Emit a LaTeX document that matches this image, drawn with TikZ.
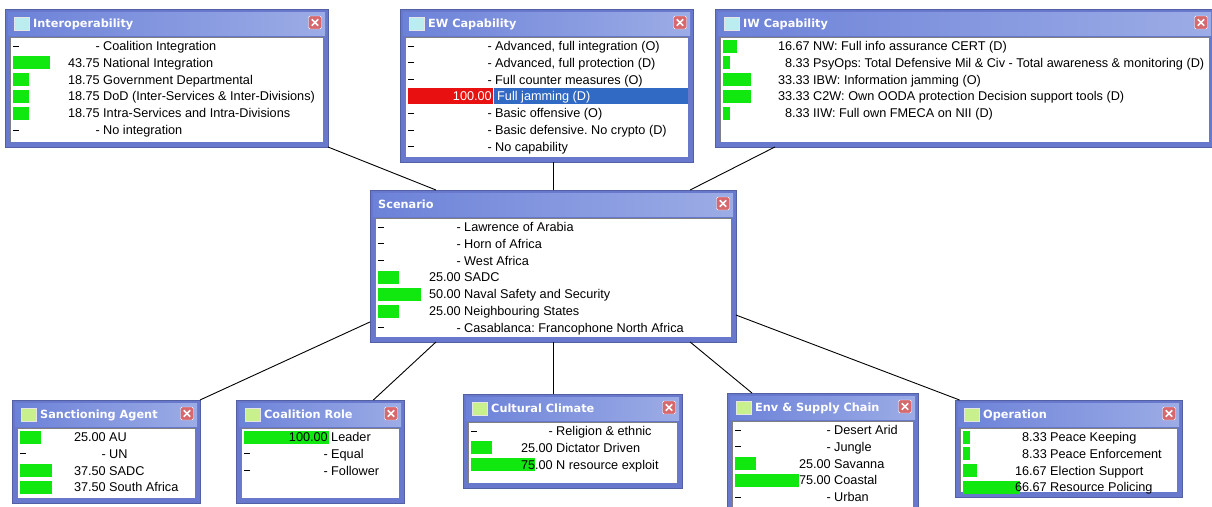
\documentclass[tikz,border=0pt]{standalone}
\usepackage{fontspec}
\setmainfont{Liberation Sans}
\newfontfamily\wtfont{DejaVu Sans}
\usepackage{xcolor}
\usepackage{tikz}
\usetikzlibrary{fit}
\frenchspacing

\definecolor{winframe}{RGB}{104,120,204}
\definecolor{wintitleA}{RGB}{108,130,216}
\definecolor{wintitleB}{RGB}{156,172,230}
\definecolor{iconcyan}{RGB}{186,236,240}
\definecolor{iconlime}{RGB}{200,240,140}
\definecolor{closered}{RGB}{214,104,110}
\definecolor{bargreen}{RGB}{16,232,16}
\definecolor{barred}{RGB}{232,16,16}
\definecolor{selblue}{RGB}{49,106,197}

\tikzset{
  netlink/.style={black, line width=0.9pt},
  netbar/.style={fill=bargreen},
  netdash/.style={black, line width=0.8pt},
  netval/.style={anchor=base east, inner sep=0pt, font=\fontsize{12.7}{14}\selectfont},
  netlab/.style={anchor=base west, inner sep=0pt, font=\fontsize{12.7}{14}\selectfont},
  nettitle/.style={anchor=base west, inner sep=0pt, text=white, font=\wtfont\bfseries\fontsize{11.3}{13}\selectfont},
  netclose/.style={draw=white, fill=closered, rectangle, rounded corners=1.5pt, minimum size=13pt, inner sep=0pt}
}

% window: name, left, top, right, bottom, title, icon colour
\newcommand{\netwin}[7]{%
  \node[fit={(#2,#3) (#4,#5)}, inner sep=0pt, outer sep=0pt] (#1) {};
  \fill[winframe, draw=winframe!80!black] (#2,#3) rectangle (#4,#5);
  \shade[left color=wintitleA, right color=wintitleB] (#2+3,#3+3) rectangle (#4-3,#3+26);
  \fill[white] (#2+5,#3+28) rectangle (#4-5,#5-5);
  \draw[gray] (#2+5.5,#5-5) -- (#2+5.5,#3+28.5) -- (#4-5,#3+28.5);
  \if\relax\detokenize{#7}\relax
    \node[nettitle] (#1-t) at (#2+8,#3+18.6) {#6};
  \else
    \fill[#7, draw=white!80!gray] (#2+9,#3+8) rectangle (#2+24,#3+21);
    \node[nettitle] (#1-t) at (#2+28,#3+18.6) {#6};
  \fi
  \node[netclose] (#1-x) at (#4-13,#3+13.5) {};
  \draw[white, line width=1.7pt] ([shift={(-3.2,-3.2)}]#1-x.center) -- ([shift={(3.2,3.2)}]#1-x.center);
  \draw[white, line width=1.7pt] ([shift={(-3.2,3.2)}]#1-x.center) -- ([shift={(3.2,-3.2)}]#1-x.center);
}

% rows: name, left, top, value column, list of value/percent/label
\newcommand{\netrows}[5]{%
  \foreach \v/\p/\t [count=\i] in {#5}{
    \pgfmathsetmacro{\ry}{#3+37+16.8*(\i-1)}
    \ifdim\p pt>0pt
      \fill[netbar] ({#2+8},{\ry-6.5}) rectangle ({#2+8+0.85*\p},{\ry+6.5});
    \else
      \draw[netdash] ({#2+8},\ry) -- ({#2+14},\ry);
    \fi
    \node[netval] (#1-v\i) at ({#2+#4},{\ry+4.4}) {\v};
    \node[netlab] (#1-l\i) at ({#2+#4+3},{\ry+4.4}) {\t};
  }}

\begin{document}
\begin{tikzpicture}[x=1pt, y=-1pt]
  \useasboundingbox (0,0) rectangle (1212,506);
  \clip (0,0) rectangle (1212,506);
  \fill[white] (0,0) rectangle (1212,506);
  % Windows:
  \netwin{interop}{5}{9}{328}{147}{Interoperability}{iconcyan}
  \netwin{ew}{400}{9}{693}{162}{EW Capability}{iconcyan}
  \netwin{iw}{715}{9}{1214}{147}{IW Capability}{iconcyan}
  \netwin{scen}{370}{190}{736}{342}{Scenario}{}
  \netwin{sanct}{12}{400}{200}{503}{Sanctioning Agent}{iconlime}
  \netwin{coal}{236}{400}{404}{503}{Coalition Role}{iconlime}
  \netwin{cult}{463}{394}{682}{488}{Cultural Climate}{iconlime}
  \netwin{env}{727}{393}{918}{520}{Env \& Supply Chain}{iconlime}
  \netwin{oper}{955}{400}{1182}{497}{Operation}{iconlime}
  % States:
  \netrows{interop}{5}{9}{95}{-/0/Coalition Integration, 43.75/43.75/National Integration,
    18.75/18.75/Government Departmental, 18.75/18.75/DoD (Inter-Services \& Inter-Divisions),
    18.75/18.75/Intra-Services and Intra-Divisions, -/0/No integration}
  \netrows{ewa}{400}{9}{92}{-/0/{Advanced, full integration (O)}, -/0/{Advanced, full protection (D)},
    -/0/Full counter measures (O)}
  \netrows{ewb}{400}{9+67.2}{92}{-/0/Basic offensive (O), -/0/Basic defensive. No crypto (D),
    -/0/No capability}
  \netrows{iw}{715}{9}{95}{16.67/16.67/NW: Full info assurance CERT (D),
    8.33/8.33/PsyOps: Total Defensive Mil \& Civ - Total awareness \& monitoring (D),
    33.33/33.33/IBW: Information jamming (O),
    33.33/33.33/C2W: Own OODA protection Decision support tools (D),
    8.33/8.33/IIW: Full own FMECA on NII (D)}
  \netrows{scen}{370}{190}{91}{-/0/Lawrence of Arabia, -/0/Horn of Africa, -/0/West Africa,
    25.00/25/SADC, 50.00/50/Naval Safety and Security, 25.00/25/Neighbouring States,
    -/0/Casablanca: Francophone North Africa}
  \netrows{sanct}{12}{400}{94}{25.00/25/AU, -/0/UN, 37.50/37.5/SADC, 37.50/37.5/South Africa}
  \netrows{coal}{236}{400}{92}{100.00/100/Leader, -/0/Equal, -/0/Follower}
  \netrows{cult}{463}{394}{90}{-/0/Religion \& ethnic, 25.00/25/Dictator Driven, 75.00/75/N resource exploit}
  \netrows{env}{727}{393}{104}{-/0/Desert Arid, -/0/Jungle, 25.00/25/Savanna, 75.00/75/Coastal, -/0/Urban}
  \netrows{oper}{955}{400}{92}{8.33/8.33/Peace Keeping, 8.33/8.33/Peace Enforcement,
    16.67/16.67/Election Support, 66.67/66.67/Resource Policing}
  % selected state in EW Capability
  \fill[barred] (408,88.4) rectangle (493,104.4);
  \fill[selblue] (494,88.4) rectangle (688,104.4);
  \node[netval, text=white] (ew-v4) at (492,100.8) {100.00};
  \node[netlab, text=white] (ew-l4) at (497,100.8) {Full jamming (D)};
  % Links:
  \draw[netlink] (scen.147) -- (interop.south east);
  \draw[netlink] (scen.north) -- (scen.north |- ew.south);
  \draw[netlink] (scen.29) -- (iw.200);
  \draw[netlink] (scen.197) -- (sanct.north east);
  \draw[netlink] (scen.213) -- (coal.44);
  \draw[netlink] (scen.south) -- (scen.south |- cult.north);
  \draw[netlink] (scen.331) -- (env.138);
  \draw[netlink] (scen.345) -- (oper.156);
\end{tikzpicture}
\end{document}
